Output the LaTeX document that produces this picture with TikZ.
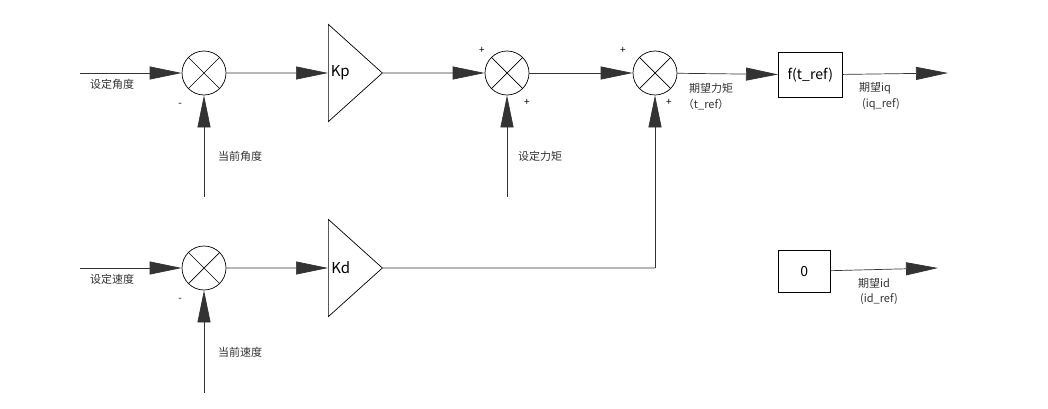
\documentclass[tikz,border=0pt]{standalone}
\usepackage{fontspec}
\setmainfont{Noto Sans CJK SC}
\usetikzlibrary{arrows.meta,shapes.geometric}
\begin{document}
\begin{tikzpicture}[x=1pt,y=-1pt,
  sumnode/.style={circle,draw,line width=0.7pt,minimum size=44pt,inner sep=0pt,path picture={\draw (path picture bounding box.south west)--(path picture bounding box.north east) (path picture bounding box.north west)--(path picture bounding box.south east);}},
  gain/.style={isosceles triangle,isosceles triangle apex angle=84,draw,line width=0.7pt,minimum height=54pt,inner sep=0pt,anchor=west,font=\fontsize{15}{15}\selectfont},
  fbox/.style={draw,line width=0.7pt,font=\fontsize{14}{14}\selectfont,anchor=north west},
  sig/.style={-{Triangle[length=32pt,width=13pt]},line width=0.7pt,draw=black!80},
  ln/.style={line width=0.7pt,draw=black!80},
  lab/.style={font=\fontsize{11}{12}\selectfont,text=black!80,inner sep=0pt},
  sg/.style={font=\fontsize{10}{10}\selectfont,inner sep=0pt}]
\useasboundingbox (0,0) rectangle (1048,409);
\node[sumnode] (s1) at (204,73) {};
\node[sumnode] (s2) at (507,73) {};
\node[sumnode] (s3) at (655,73) {};
\node[sumnode] (s4) at (204,268) {};
\node[gain] (kp) at (328,73) {\hspace{-14pt}Kp};
\node[gain] (kd) at (328,268) {\hspace{-14pt}Kd};
\node[fbox,minimum width=64pt,minimum height=45pt] (f) at (778,52) {f(t\_ref)};
\node[fbox,minimum width=52pt,minimum height=42pt] (z) at (778,250) {0};
\coordinate (i1) at (80,73);
\coordinate (i4) at (80,268);
\coordinate (c1) at (204,197);
\coordinate (c2) at (507,197);
\coordinate (c4) at (204,393);
\coordinate (o1) at (948,73);
\coordinate (o2) at (938,268);
\coordinate (k) at (655,268);
\draw[sig] (i1) -- (s1);
\draw[sig] (c1) -- (s1);
\draw[sig] (s1) -- (kp);
\draw[sig] (kp) -- (s2);
\draw[sig] (c2) -- (s2);
\draw[sig] (s2) -- (s3);
\draw[sig] (s3) -- (f);
\draw[sig] (f) -- (o1);
\draw[sig] (i4) -- (s4);
\draw[sig] (c4) -- (s4);
\draw[sig] (s4) -- (kd);
\draw[ln] (kd.east) -- (k);
\draw[sig] (k) -- (s3);
\draw[sig] (z) -- (o2);
\node[lab] (t1) at (112,84) {设定角度};
\node[lab] (t2) at (240,156) {当前角度};
\node[lab] (t3) at (540,156) {设定力矩};
\node[lab] (t4) at (112,279) {设定速度};
\node[lab] (t5) at (240,352) {当前速度};
\node[lab] (t6) at (711,88) {期望力矩};
\node[lab] (t7) at (706,105) {（t\_ref）};
\node[lab] (t8) at (875,88) {期望iq};
\node[lab] (t9) at (881,104) {(iq\_ref)};
\node[lab] (t10) at (874,283) {期望id};
\node[lab] (t11) at (879,299) {(id\_ref)};
\node[sg] (m1) at (180,105) {-};
\node[sg] (m2) at (180,300) {-};
\node[sg] (p1) at (482,50) {+};
\node[sg] (p2) at (527,102) {+};
\node[sg] (p3) at (623,50) {+};
\node[sg] (p4) at (669,102) {+};
\end{tikzpicture}
\end{document}
